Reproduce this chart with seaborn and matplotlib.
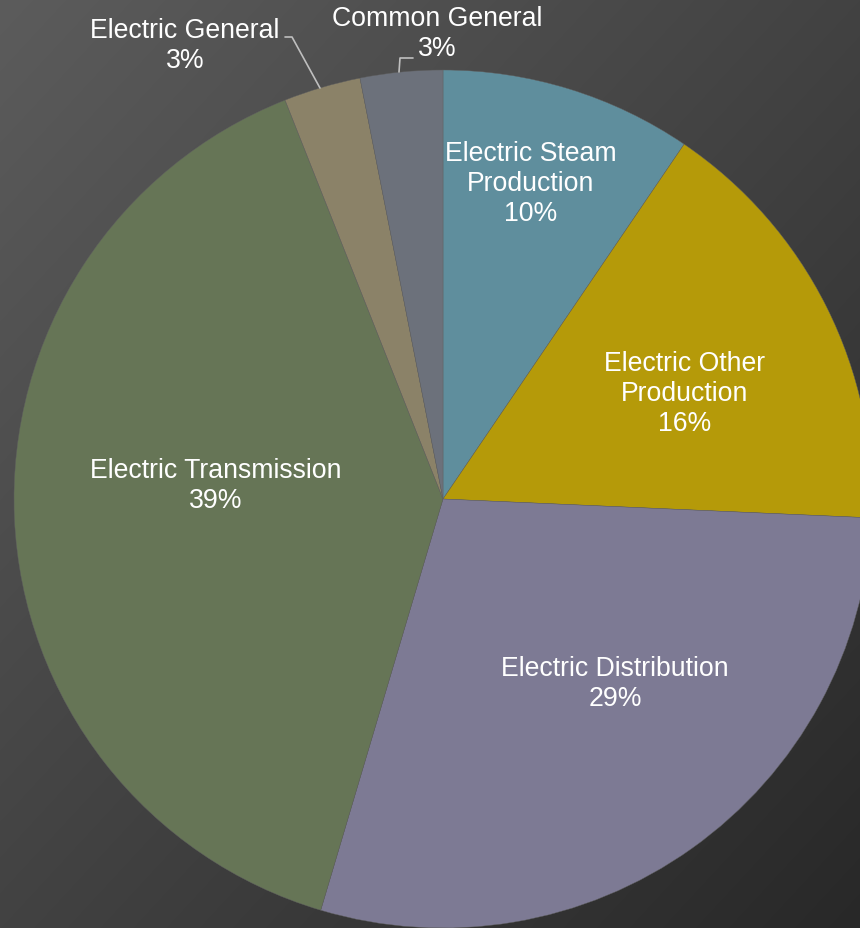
import numpy as np
import matplotlib
matplotlib.use("Agg")
import matplotlib.pyplot as plt
import seaborn as sns

categories = ["Electric Steam\nProduction", "Electric Other\nProduction", "Electric Distribution",
              "Electric Transmission", "Electric General", "Common General"]
values = [9.5, 16.2, 28.9, 39.4, 2.9, 3.1]
pct_labels = ["10%", "16%", "29%", "39%", "3%", "3%"]
colors = ["#5F8E9D", "#B59A09", "#7D7A94", "#667556", "#8B8268", "#6C717B"]

sns.set_style("white")
plt.rcParams['font.family'] = ['Liberation Sans', 'DejaVu Sans']

W, H = 860, 929
fig = plt.figure(figsize=(W / 100, H / 100), dpi=100)
ax = fig.add_axes([0, 0, 1, 1])

# background diagonal gradient (row 0 = top of figure)
yy, xx = np.mgrid[0:H, 0:W]
t = (xx / W + yy / H) / 2.0
c0 = np.array([0x5c, 0x5c, 0x5c]) / 255.0
c1 = np.array([0x28, 0x28, 0x28]) / 255.0
img = c0[None, None, :] * (1 - t[..., None]) + c1[None, None, :] * t[..., None]
ax.imshow(img, extent=(0, W, 0, H), origin="upper", zorder=0, aspect="auto")

pal = sns.color_palette(colors)
cx, cy, r = 443, H - 500, 429
ax.pie(values, colors=pal, startangle=90, counterclock=False, center=(cx, cy), radius=r,
       wedgeprops=dict(edgecolor="#606060", linewidth=0.3), frame=True)
ax.set_xlim(0, W)
ax.set_ylim(0, H)
ax.axis("off")

# label positions (pixel coords of text centre)
label_pos = [(531, 184), (685, 394), (615, 684), (216, 486), (185, 46), (437, 34)]
fs = 19.2
for cat, pct, (px, py) in zip(categories, pct_labels, label_pos):
    ax.text(px, H - py, f"{cat}\n{pct}", ha="center", va="center", color="white",
            fontsize=fs, linespacing=1.22, zorder=5)

# leader lines
lc = "#BFBFBF"
ax.plot([285, 292, 320], [H - 38, H - 38, H - 89], color=lc, lw=1.2, zorder=4)
ax.plot([399, 400, 413], [H - 73, H - 59, H - 59], color=lc, lw=1.2, zorder=4)

fig.savefig("out.png", dpi=100)
